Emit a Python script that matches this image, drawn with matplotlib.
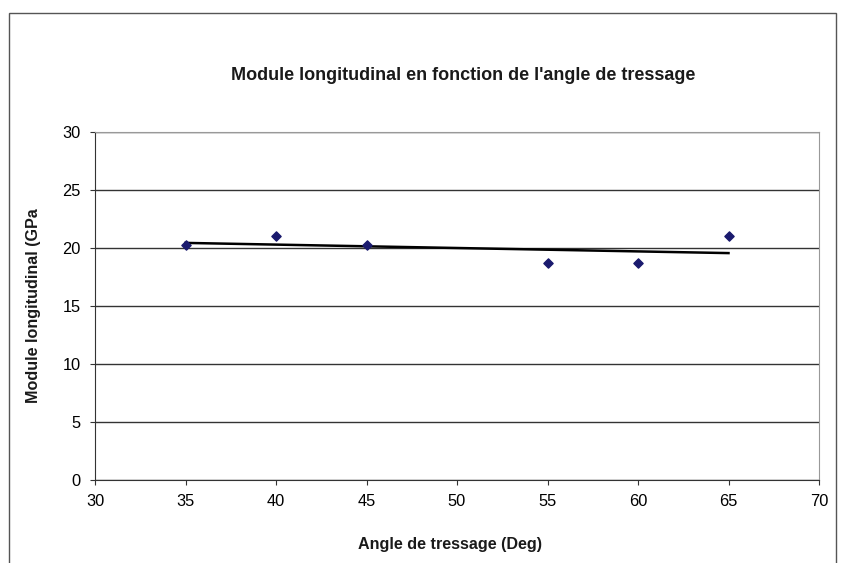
import numpy as np
import matplotlib.pyplot as plt
from matplotlib.patches import Rectangle

plt.rcParams['font.family'] = ['Liberation Sans', 'DejaVu Sans']

angles = [35, 40, 45, 55, 60, 65]
modulus = [20.3, 21.0, 20.3, 18.7, 18.7, 21.0]
x_ticks = [30, 35, 40, 45, 50, 55, 60, 65, 70]
y_ticks = [0, 5, 10, 15, 20, 25, 30]

fig = plt.figure(figsize=(8.44, 5.63), dpi=100)
ax = fig.add_axes([95 / 844, 83 / 563, 724 / 844, 348 / 563])

# outer chart frame
fig.patches.append(Rectangle((9 / 844, -0.05), 827 / 844, 1.05 - 13 / 563,
                             transform=fig.transFigure, fill=False,
                             edgecolor='#555555', linewidth=1))

ax.set_axisbelow(True)
ax.grid(axis='y', color='#333333', linewidth=1)

ax.scatter(angles, modulus, marker='D', s=22, color='#1a1a6e', zorder=3)

# linear trend line
coef = np.polyfit(angles, modulus, 1)
xs = np.array([angles[0], angles[-1]])
ax.plot(xs, np.polyval(coef, xs), color='black', linewidth=1.8, zorder=2)

ax.set_xlim(30, 70)
ax.set_ylim(0, 30)
ax.set_xticks(x_ticks)
ax.set_yticks(y_ticks)
ax.tick_params(axis='both', direction='out', length=3.6, pad=6.5,
               labelsize=11.8, color='#333333')

for side in ['top', 'right']:
    ax.spines[side].set_color('#999999')
for side in ['left', 'bottom']:
    ax.spines[side].set_color('#333333')

fig.text(463 / 844, 1 - 75 / 563, "Module longitudinal en fonction de l'angle de tressage",
         ha='center', va='center', fontsize=13, fontweight='bold', color='#1a1a1a')
fig.text(450 / 844, 1 - 544 / 563, "Angle de tressage (Deg)",
         ha='center', va='center', fontsize=11.6, fontweight='bold', color='#1a1a1a')
fig.text(34 / 844, 1 - 306 / 563, "Module longitudinal (GPa",
         ha='center', va='center', rotation=90, fontsize=11.6, fontweight='bold',
         color='#1a1a1a')

fig.savefig('out.png', dpi=100)
